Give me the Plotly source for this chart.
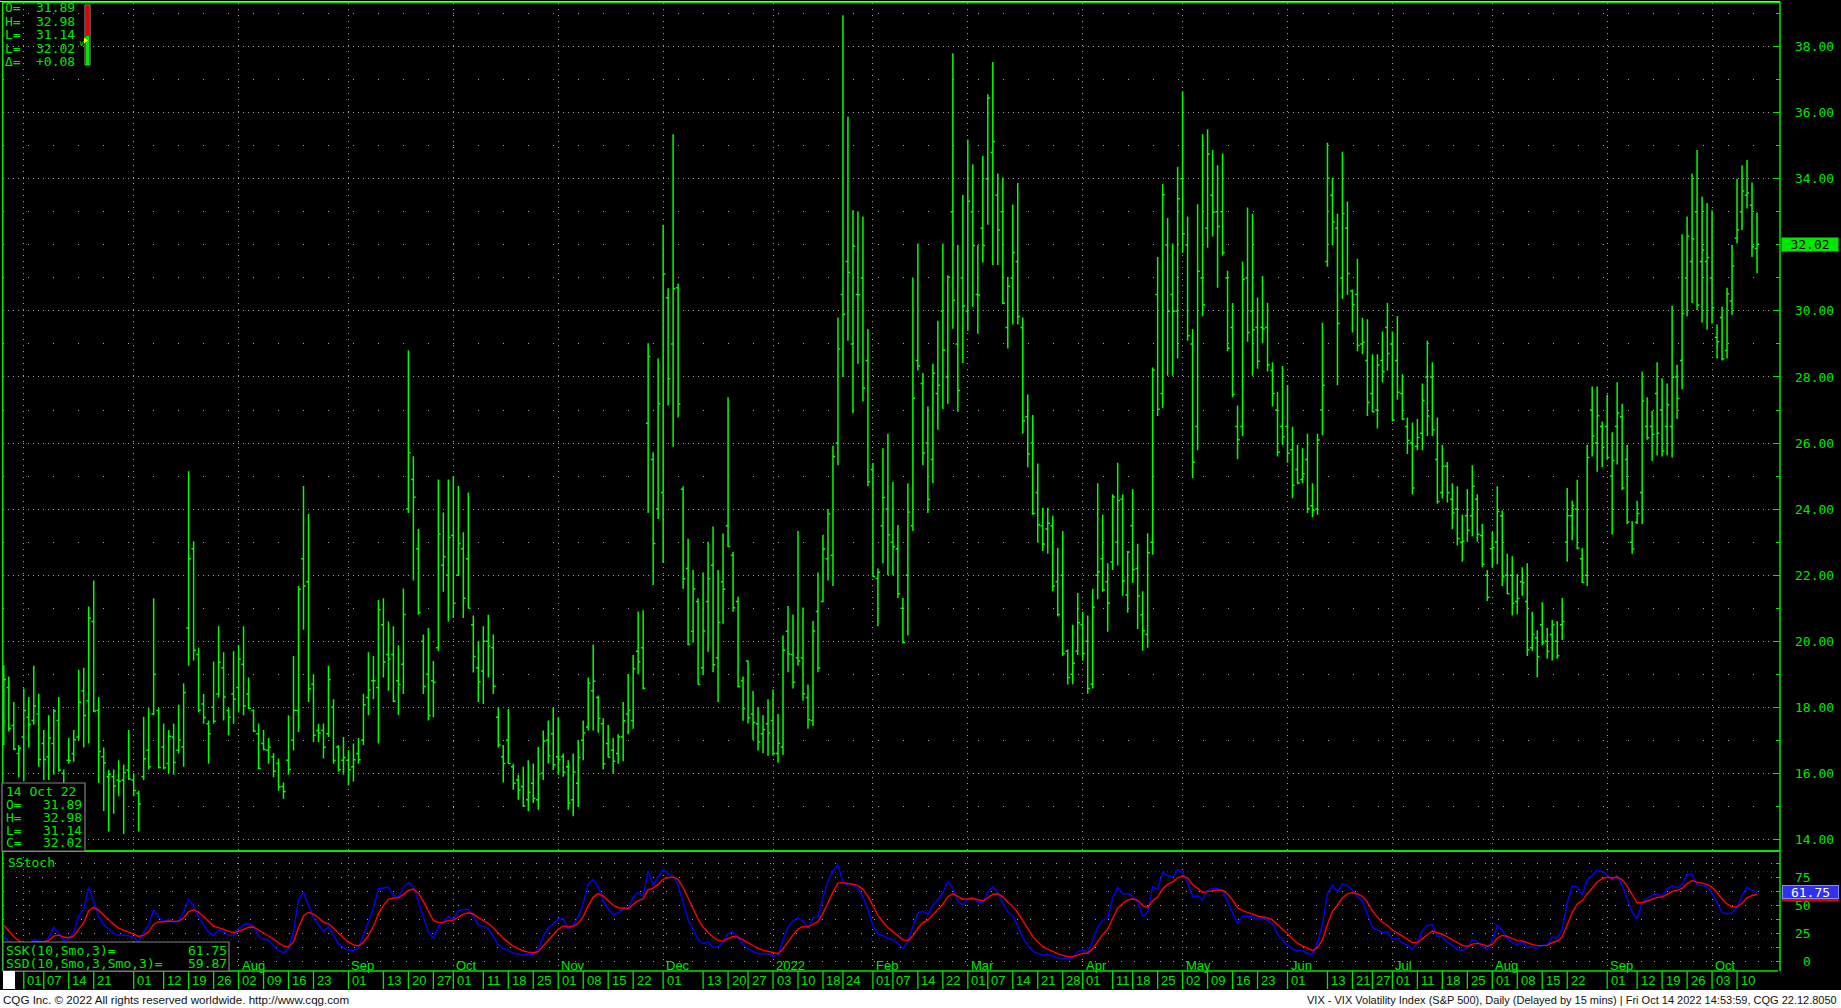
import numpy as np
import pandas as pd
import plotly.graph_objects as go

# ---------------- data ----------------
FIRST_DAY, LAST_DAY = "2021-05-25", "2022-10-14"
HOLIDAYS = ["2021-05-31", "2021-07-05", "2021-09-06", "2021-11-25", "2021-12-24",
            "2022-01-17", "2022-02-21", "2022-04-15", "2022-05-30", "2022-06-20",
            "2022-07-04", "2022-09-05"]

# sessions just before the visible window (May 10 - May 24, 2021): only used to
# warm up the stochastic so its first visible values are meaningful
PRIOR_HIGH = [20.00, 23.70, 28.40, 27.60, 22.90, 20.90, 21.50, 25.96, 22.50, 21.30, 20.60]
PRIOR_LOW = [16.80, 19.50, 20.30, 22.00, 18.50, 18.80, 18.90, 21.20, 20.30, 19.30, 18.20]
PRIOR_CLOSE = [19.66, 21.84, 27.59, 23.13, 18.81, 19.72, 21.34, 22.18, 20.67, 20.15, 18.40]

OPEN = [
    17.70, 18.60, 17.45, 16.60,
    17.10, 17.70, 17.60, 17.80, 16.90, 16.50, 16.90, 17.60, 16.00, 16.40, 16.60, 17.10, 18.50, 18.20, 20.60, 17.90, 16.50, 15.90, 15.90, 15.80, 15.80, 16.10,
    15.80, 15.40, 15.90, 16.70, 17.80, 17.90, 16.80, 16.30, 17.10, 16.70, 16.80, 20.40, 22.80, 19.60, 18.10, 17.50, 18.00, 18.40, 19.20, 17.90, 18.40,
    18.60, 19.30, 18.40, 17.90, 17.20, 16.90, 16.70, 16.50, 16.30, 15.60, 16.40, 17.00, 17.90, 22.50, 21.80, 18.70, 17.30, 17.30, 17.20, 18.00, 16.80, 16.40,
    16.40, 16.20, 16.60, 17.00, 18.30, 18.80, 18.60, 20.50, 19.60, 19.60, 18.80, 19.30, 24.00, 24.90, 22.80, 20.00, 19.00, 18.80, 19.80, 22.30, 22.00,
    23.20, 22.00, 22.80, 22.50, 20.50, 19.20, 19.10, 20.00, 19.80, 17.70, 16.50, 17.00, 16.20, 15.80, 15.60, 15.20, 15.70, 15.20, 16.00, 17.00, 17.20,
    16.50, 16.50, 16.20, 15.20, 15.70, 17.00, 17.40, 18.50, 18.30, 17.50, 16.90, 16.70, 16.60, 17.10, 17.80, 17.60, 19.70, 19.80, 26.60, 25.50, 24.00,
    24.50, 30.40, 29.00, 30.70, 24.60, 22.20, 20.30, 21.20, 19.20, 21.20, 22.30, 19.50, 21.80, 23.50, 22.60, 21.20, 18.80, 19.40, 17.80, 17.50, 17.20, 17.50,
    17.60, 16.60, 16.80, 20.30, 19.60, 19.50, 19.50, 18.30, 17.60, 20.90, 21.20, 22.50, 22.60, 26.00, 30.50, 31.50, 29.00, 30.50, 31.00, 28.50,
    25.20, 21.90, 23.50, 24.00, 23.00, 22.80, 21.00, 22.00, 23.50, 28.50, 27.80, 26.00, 25.50, 27.50, 30.00, 28.00, 33.00, 29.00, 31.00,
    30.00, 33.00, 30.50, 32.50, 34.00, 34.80, 33.50, 33.00, 29.50, 31.00, 31.50, 29.50, 26.80, 26.00, 24.50, 23.50, 23.40, 23.50, 21.80, 22.00, 19.70, 19.00, 19.70,
    20.50, 20.00, 18.70, 22.00, 22.50, 21.80, 22.40, 23.00, 24.30, 21.40, 23.50, 22.20, 20.80, 20.20, 23.00, 30.50, 27.50, 32.00, 30.50, 30.00,
    34.00, 32.00, 29.00, 26.50, 31.00, 32.50, 33.50, 33.00, 33.00, 31.00, 29.50, 26.50, 26.50, 31.00, 30.00, 29.50, 29.50, 29.50, 28.20, 27.00, 26.50,
    26.50, 25.80, 25.20, 24.90, 25.50, 24.10, 24.00, 27.00, 31.50, 33.50, 32.50, 31.00, 32.50, 30.60, 30.50, 29.00, 28.50, 27.50, 27.00, 28.50, 29.50,
    29.00, 28.50, 27.50, 26.50, 26.00, 25.90, 26.30, 28.00, 28.00, 25.50, 24.50, 25.30, 24.30, 24.00, 23.00, 23.80, 23.80, 24.30, 23.20, 22.00,
    22.80, 23.00, 23.80, 22.00, 22.00, 21.20, 21.80, 21.20, 19.80, 20.10, 20.50, 20.00, 20.20, 20.00, 20.50, 23.00, 23.80, 24.00, 22.50, 22.00, 27.00, 26.00, 26.50,
    26.50, 25.00, 26.50, 26.80, 25.50, 23.00, 23.60, 24.50, 26.50, 26.50, 27.50, 27.00, 26.50, 26.50, 28.00, 28.50, 31.00, 31.50, 33.00, 31.50, 31.50,
    31.00, 29.20, 29.80, 28.80, 30.30, 32.20, 33.00, 33.50, 33.20, 31.89,
]
HIGH = [
    19.27, 18.93, 18.16, 16.86,
    18.57, 18.31, 19.26, 18.41, 17.31, 17.76, 17.95, 18.31, 16.12, 17.07, 17.31, 19.14, 19.20, 21.05, 21.84, 18.31, 16.78, 16.10, 16.12, 16.40, 16.27, 17.31,
    16.00, 15.47, 17.71, 17.97, 21.30, 17.97, 17.51, 17.31, 17.51, 18.08, 18.73, 25.15, 23.03, 19.80, 18.40, 17.60, 19.39, 20.45, 19.67, 17.97, 19.70,
    19.88, 20.45, 18.90, 17.93, 17.51, 17.31, 17.07, 16.61, 16.45, 15.72, 17.76, 19.55, 21.67, 24.70, 23.85, 19.00, 17.50, 17.51, 19.26, 18.24, 16.86, 17.10,
    16.70, 16.90, 17.07, 18.41, 19.67, 19.55, 21.25, 21.30, 20.60, 20.45, 19.88, 21.60, 28.81, 25.60, 23.40, 20.20, 20.40, 19.40, 24.90, 23.90, 24.90,
    25.00, 24.70, 23.30, 24.50, 20.78, 20.00, 20.45, 20.80, 20.20, 18.00, 16.86, 17.95, 16.29, 15.96, 16.20, 16.40, 16.30, 16.80, 17.30, 17.60, 18.00,
    17.70, 16.60, 16.40, 16.60, 17.00, 17.60, 18.90, 19.90, 18.36, 17.67, 17.46, 17.07, 17.18, 18.16, 19.01, 19.58, 20.90, 20.94, 29.02, 25.72, 28.56,
    32.61, 30.69, 35.35, 30.82, 24.69, 23.10, 22.16, 21.30, 22.08, 23.01, 23.47, 22.16, 23.26, 27.39, 22.70, 21.35, 18.93, 19.42, 18.49, 18.00, 17.76, 18.24,
    18.54, 17.80, 20.17, 21.07, 20.81, 23.34, 21.02, 18.69, 20.61, 22.08, 23.22, 24.00, 25.92, 29.80, 38.95, 35.88, 33.05, 33.02, 32.86, 29.45,
    25.40, 22.20, 25.84, 26.28, 24.82, 23.52, 21.31, 24.78, 31.01, 32.04, 28.12, 27.11, 28.40, 29.70, 32.04, 31.08, 37.80, 32.00, 33.51,
    35.19, 34.44, 32.00, 34.69, 36.56, 37.54, 34.16, 34.03, 31.03, 33.22, 33.87, 29.80, 27.47, 26.85, 25.38, 24.04, 24.04, 23.80, 22.82, 23.34, 19.75, 20.50, 21.46,
    20.89, 20.78, 21.59, 24.78, 23.83, 22.36, 24.45, 25.40, 24.45, 22.73, 24.61, 22.95, 21.51, 23.27, 28.29, 31.63, 33.84, 32.81, 32.04, 34.36,
    36.65, 32.86, 29.45, 33.23, 35.35, 35.50, 34.87, 34.41, 34.77, 31.22, 30.24, 27.14, 31.50, 33.13, 32.94, 30.41, 31.06, 30.24, 28.45, 27.55, 28.33,
    27.76, 26.49, 25.95, 25.84, 26.28, 24.78, 26.28, 29.64, 35.09, 34.03, 32.94, 34.82, 33.31, 30.65, 31.58, 29.79, 29.75, 28.69, 28.69, 29.38, 30.24,
    29.38, 29.84, 28.08, 26.77, 26.62, 26.73, 27.80, 29.10, 28.45, 26.77, 25.95, 25.43, 24.78, 24.69, 23.83, 24.61, 25.33, 24.45, 23.55, 22.16,
    23.31, 24.69, 23.96, 22.65, 22.57, 22.03, 22.24, 22.36, 20.89, 20.33, 21.18, 20.40, 20.64, 20.61, 21.31, 24.64, 24.25, 24.89, 22.82, 25.95, 27.71, 27.71, 26.65,
    27.47, 26.33, 27.84, 27.19, 25.95, 23.63, 24.25, 28.17, 27.39, 26.98, 28.45, 27.96, 27.80, 30.16, 28.37, 32.32, 32.86, 34.16, 34.87, 33.46, 33.26,
    33.05, 29.59, 30.13, 30.70, 32.00, 34.00, 34.41, 34.57, 33.89, 32.98,
]
LOW = [
    16.86, 17.27, 16.70, 15.88,
    15.76, 16.78, 17.47, 16.20, 15.80, 15.80, 15.96, 16.05, 15.55, 16.29, 16.35, 17.00, 16.78, 16.90, 17.85, 15.71, 14.86, 14.24, 14.78, 15.31, 14.16, 15.80,
    15.31, 14.24, 15.80, 16.12, 17.76, 16.15, 16.12, 16.00, 15.96, 16.60, 16.20, 19.26, 19.42, 17.85, 17.50, 16.29, 17.50, 18.30, 17.60, 17.15, 17.50,
    17.85, 17.76, 17.95, 17.25, 16.12, 16.70, 16.29, 15.88, 15.47, 15.23, 15.96, 16.70, 17.25, 20.35, 18.16, 16.95, 16.95, 16.45, 17.10, 16.29, 16.05, 15.96,
    15.63, 15.75, 16.29, 16.86, 17.76, 18.24, 16.90, 18.90, 18.50, 18.15, 17.76, 18.40, 23.88, 21.84, 20.80, 18.40, 17.60, 17.70, 19.70, 21.50, 20.60,
    20.70, 22.00, 20.70, 21.00, 19.05, 18.16, 18.10, 18.90, 18.40, 16.78, 15.72, 16.29, 15.50, 15.20, 14.98, 14.86, 15.10, 14.90, 15.80, 16.30, 16.10,
    15.96, 15.90, 14.90, 14.70, 14.98, 16.40, 17.30, 17.30, 17.23, 16.12, 16.48, 15.99, 16.29, 16.37, 17.18, 17.35, 19.00, 18.54, 23.88, 21.70, 23.70,
    22.37, 27.14, 25.89, 26.77, 21.59, 19.88, 19.96, 18.69, 18.98, 19.68, 19.06, 18.16, 20.53, 22.85, 20.89, 18.60, 17.59, 17.51, 17.02, 16.69, 16.61, 16.53,
    16.53, 16.32, 16.56, 19.06, 18.57, 19.26, 18.20, 17.35, 17.43, 19.06, 21.18, 21.84, 21.67, 25.33, 28.00, 29.10, 26.90, 28.40, 27.26, 24.69,
    21.95, 20.45, 22.36, 22.00, 22.00, 21.31, 19.93, 20.17, 23.34, 28.20, 25.33, 23.88, 24.78, 26.40, 27.03, 27.19, 29.46, 26.95, 28.42,
    29.40, 30.13, 29.31, 31.47, 32.61, 31.39, 31.39, 30.20, 28.86, 29.59, 29.59, 26.28, 25.27, 23.83, 22.98, 22.73, 22.65, 21.51, 20.75, 19.55, 18.69, 18.70, 19.58,
    19.42, 18.41, 18.57, 21.27, 21.50, 20.29, 22.16, 22.29, 21.38, 20.86, 21.76, 20.37, 19.71, 19.80, 22.62, 26.82, 27.06, 28.04, 28.04, 28.56,
    31.76, 29.10, 24.94, 25.78, 29.84, 31.91, 32.25, 30.70, 31.68, 28.78, 27.39, 25.51, 26.21, 29.07, 28.04, 28.25, 29.02, 28.17, 27.11, 25.59, 25.95,
    25.40, 24.33, 24.75, 24.78, 23.88, 23.75, 23.83, 26.24, 31.34, 31.99, 27.75, 30.36, 30.49, 29.35, 28.78, 28.69, 26.82, 26.93, 26.44, 27.84, 28.20,
    26.65, 27.31, 26.70, 25.67, 24.45, 25.78, 25.78, 26.21, 26.21, 24.16, 24.32, 24.20, 23.39, 22.90, 22.41, 23.01, 23.18, 23.01, 22.24, 21.22,
    22.24, 22.33, 21.67, 21.43, 20.78, 20.82, 21.38, 19.55, 19.71, 18.91, 19.88, 19.47, 19.42, 19.47, 20.04, 22.41, 23.06, 22.78, 21.76, 21.67, 25.59, 25.13, 25.27,
    25.51, 23.23, 25.35, 24.58, 23.55, 22.65, 23.55, 23.55, 26.10, 25.46, 25.62, 25.59, 25.62, 25.56, 26.73, 27.63, 29.84, 30.24, 30.03, 29.64, 29.43,
    29.62, 28.56, 28.50, 28.56, 29.88, 32.04, 32.45, 33.10, 31.63, 31.14,
]
CLOSE = [
    18.84, 17.36, 16.74, 16.76,
    17.90, 17.48, 18.04, 16.42, 16.42, 17.07, 17.89, 16.10, 15.65, 16.39, 17.02, 18.15, 17.75, 20.70, 17.89, 16.66, 16.32, 15.97, 15.62, 15.76, 16.02, 15.83,
    15.48, 15.07, 16.44, 16.20, 19.00, 16.18, 16.17, 17.12, 16.33, 17.01, 18.45, 22.50, 19.73, 17.91, 17.69, 17.20, 17.58, 19.36, 18.31, 17.70, 18.24,
    19.46, 18.04, 17.97, 17.28, 16.15, 16.72, 16.79, 16.06, 15.59, 15.45, 16.12, 17.91, 21.57, 21.67, 18.56, 17.15, 17.22, 16.79, 18.84, 16.39, 16.11, 16.48,
    16.11, 16.41, 16.41, 18.08, 18.52, 18.80, 20.95, 19.37, 19.46, 18.18, 18.69, 20.81, 25.71, 24.36, 20.87, 18.63, 17.75, 18.76, 23.25, 22.56, 23.14,
    21.15, 22.96, 21.30, 21.00, 19.54, 18.77, 20.00, 19.85, 18.64, 16.86, 16.30, 16.30, 15.70, 15.49, 15.01, 15.43, 15.24, 15.98, 16.98, 16.53, 16.26,
    16.41, 16.03, 15.10, 16.04, 16.48, 17.22, 18.73, 18.79, 17.66, 16.29, 16.49, 16.37, 17.11, 17.59, 17.91, 19.17, 19.38, 18.58, 28.62, 22.96, 27.19,
    31.12, 27.95, 30.67, 27.18, 21.89, 19.90, 21.58, 18.69, 20.31, 21.89, 19.29, 20.57, 21.57, 22.87, 21.01, 18.63, 17.96, 17.68, 17.54, 16.95, 17.33, 17.22,
    16.60, 16.91, 19.73, 19.61, 18.76, 19.40, 18.41, 17.62, 20.31, 19.19, 22.79, 23.85, 25.59, 28.85, 29.90, 31.16, 31.96, 30.49, 27.66, 24.83,
    21.96, 22.09, 24.35, 23.22, 22.86, 21.44, 19.96, 23.91, 27.36, 28.33, 25.70, 24.29, 28.11, 27.75, 28.81, 31.02, 30.32, 27.59, 30.15,
    33.32, 31.98, 30.48, 31.98, 36.45, 35.13, 32.45, 30.23, 30.75, 31.77, 29.83, 26.67, 25.67, 23.87, 23.53, 22.94, 23.57, 21.67, 20.81, 19.63, 18.90, 19.33, 20.56,
    19.63, 18.57, 21.03, 22.10, 21.55, 21.16, 24.37, 24.26, 21.82, 22.70, 22.17, 21.37, 20.32, 22.68, 28.21, 27.02, 33.52, 29.99, 29.99, 33.40,
    32.34, 29.25, 25.42, 31.20, 30.19, 34.75, 32.99, 32.56, 31.77, 28.87, 27.47, 26.10, 30.96, 29.35, 29.43, 28.48, 29.45, 28.37, 27.50, 25.72, 26.19,
    25.69, 24.72, 24.79, 25.07, 24.02, 23.96, 26.09, 27.75, 34.02, 32.69, 29.62, 32.95, 31.13, 30.19, 28.95, 29.05, 27.23, 26.95, 28.36, 28.16, 28.71,
    26.70, 27.54, 26.73, 26.08, 24.64, 26.17, 27.29, 26.82, 26.40, 24.23, 25.30, 24.50, 23.88, 23.11, 23.03, 23.36, 24.69, 23.24, 22.33, 21.33,
    22.84, 23.93, 21.95, 21.44, 21.15, 21.29, 21.77, 19.74, 20.20, 19.53, 19.95, 19.69, 20.50, 19.56, 20.60, 23.80, 24.11, 22.82, 21.78, 25.56, 26.21, 26.83, 25.87,
    25.56, 25.47, 26.91, 24.64, 23.61, 22.79, 23.87, 27.27, 26.16, 26.27, 26.30, 25.76, 27.16, 27.99, 27.35, 29.92, 32.26, 32.18, 30.18, 31.84, 31.62,
    30.10, 29.07, 28.55, 30.52, 31.36, 32.45, 33.63, 33.57, 31.94, 32.02,
]

MONTH_STARTS = ["2021-06-01", "2021-07-01", "2021-08-02", "2021-09-01", "2021-10-01", "2021-11-01",
                "2021-12-01", "2022-01-03", "2022-02-01", "2022-03-01", "2022-04-01", "2022-05-02",
                "2022-06-01", "2022-07-01", "2022-08-01", "2022-09-01", "2022-10-03"]
MONTH_LABEL_DATES = MONTH_STARTS[2:]
MONTH_LABELS = ["Aug", "Sep", "Oct", "Nov", "Dec", "2022", "Feb", "Mar", "Apr", "May",
                "Jun", "Jul", "Aug", "Sep", "Oct"]
DAY_TICKS = ["2021-06-01", "2021-06-07", "2021-06-14", "2021-06-21", "2021-07-01", "2021-07-12",
             "2021-07-19", "2021-07-26", "2021-08-02", "2021-08-09", "2021-08-16", "2021-08-23",
             "2021-09-01", "2021-09-13", "2021-09-20", "2021-09-27", "2021-10-01", "2021-10-11",
             "2021-10-18", "2021-10-25", "2021-11-01", "2021-11-08", "2021-11-15", "2021-11-22",
             "2021-12-01", "2021-12-13", "2021-12-20", "2021-12-27", "2022-01-03", "2022-01-10",
             "2022-01-18", "2022-01-24", "2022-02-01", "2022-02-07", "2022-02-14", "2022-02-22",
             "2022-03-01", "2022-03-07", "2022-03-14", "2022-03-21", "2022-03-28", "2022-04-01",
             "2022-04-11", "2022-04-18", "2022-04-25", "2022-05-02", "2022-05-09", "2022-05-16",
             "2022-05-23", "2022-06-01", "2022-06-13", "2022-06-21", "2022-06-27", "2022-07-01",
             "2022-07-11", "2022-07-18", "2022-07-25", "2022-08-01", "2022-08-08", "2022-08-15",
             "2022-08-22", "2022-09-01", "2022-09-12", "2022-09-19", "2022-09-26", "2022-10-03",
             "2022-10-10"]
PRICE_TICKS = [14, 16, 18, 20, 22, 24, 26, 28, 30, 34, 36, 38]
STOCH_LABELS = [75, 50, 25, 0]
STOCH_GRID = [0, 12.5, 25, 37.5, 50, 62.5, 75, 87.5]
STOCH_OB, STOCH_OS = 80, 20
LAST = dict(date="14 Oct 22", O="31.89", H="32.98", L="31.14", C="32.02", D="+0.08")
SSK_LAST, SSD_LAST = 61.75, 59.87

# ---------------- trading calendar -> bar positions ----------------
dates = pd.bdate_range(FIRST_DAY, LAST_DAY, freq="C", holidays=HOLIDAYS)
pos = {d: k for k, d in enumerate(dates)}
origin = pos[pd.Timestamp("2021-06-01")]
xs = np.arange(len(dates)) - origin


def xi(s):
    return pos[pd.Timestamp(s)] - origin


# ---------------- slow stochastic (CQG SSK/SSD, smoothed averages) ----------------
n_prior = len(PRIOR_CLOSE)
Hh = np.array(PRIOR_HIGH + HIGH)
Ll = np.array(PRIOR_LOW + LOW)
Cc = np.array(PRIOR_CLOSE + CLOSE)
hh = pd.Series(Hh).rolling(10, min_periods=1).max().to_numpy()
ll = pd.Series(Ll).rolling(10, min_periods=1).min().to_numpy()


def smooth(v, n):
    out = np.empty(len(v))
    out[0] = v[0]
    for t in range(1, len(v)):
        out[t] = out[t - 1] + (v[t] - out[t - 1]) / n
    return out


ssk_all = 100 * smooth(Cc - ll, 3) / smooth(hh - ll, 3)
ssd_all = smooth(ssk_all, 3)
ssk = ssk_all[n_prior:]
ssd = ssd_all[n_prior:]

# ---------------- styling / layout geometry ----------------
FIG_W, FIG_H = 1841, 1008
GREEN = "#00e800"
BAR_GREEN = "#00ff00"
GRID = "#a0a0a0"
MONO = "DejaVu Sans Mono"
SANS = "Liberation Sans"


def fx(p):
    return p / FIG_W


def fy(p):
    return 1 - p / FIG_H


X_DOM = [fx(3), fx(1780)]
MAIN_DOM = [fy(851), fy(3)]
STOCH_DOM = [fy(971), fy(851)]
X_RANGE = [-4.16, 351.6]
P_RANGE = [13.649, 39.323]
S_RANGE = [-8.66, 98.5]

fig = go.Figure()
fig.add_trace(go.Ohlc(
    x=xs, open=OPEN, high=HIGH, low=LOW, close=CLOSE,
    increasing=dict(line=dict(color=BAR_GREEN, width=1.5)),
    decreasing=dict(line=dict(color=BAR_GREEN, width=1.5)),
    tickwidth=0.45, xaxis="x", yaxis="y", hoverinfo="skip"))
fig.add_trace(go.Scatter(x=xs, y=ssk, mode="lines", line=dict(color="#0000ff", width=1.4),
                         xaxis="x2", yaxis="y2", hoverinfo="skip"))
fig.add_trace(go.Scatter(x=xs, y=ssd, mode="lines", line=dict(color="#ff0000", width=1.4),
                         xaxis="x2", yaxis="y2", hoverinfo="skip"))

month_x = [xi(d) for d in MONTH_STARTS]
xaxis_common = dict(domain=X_DOM, range=X_RANGE, tickmode="array", tickvals=month_x,
                    showticklabels=False, ticks="", showgrid=True, gridcolor=GRID,
                    gridwidth=1, griddash="1px,5px", zeroline=False, showline=False,
                    fixedrange=True)

fig.update_layout(
    width=FIG_W, height=FIG_H, margin=dict(l=0, r=0, t=0, b=0, pad=0),
    paper_bgcolor="black", plot_bgcolor="black", showlegend=False,
    xaxis=dict(**xaxis_common, anchor="y", rangeslider=dict(visible=False)),
    xaxis2=dict(**xaxis_common, anchor="y2"),
    yaxis=dict(domain=MAIN_DOM, range=P_RANGE, side="right", anchor="x",
               tickmode="array", tickvals=PRICE_TICKS, tickformat=".2f",
               ticks="inside", ticklen=7, tickcolor=GREEN, tickwidth=1,
               tickfont=dict(family=MONO, size=13, color=GREEN), ticklabelstandoff=14,
               showgrid=True, gridcolor=GRID, griddash="1px,4px", gridwidth=1,
               zeroline=False, showline=False, fixedrange=True,
               minor=dict(tickmode="linear", tick0=0, dtick=1, ticks="inside", ticklen=4,
                          tickcolor=GREEN, showgrid=True, gridcolor=GRID,
                          griddash="1px,24px", gridwidth=1)),
    yaxis2=dict(domain=STOCH_DOM, range=S_RANGE, side="right", anchor="x2",
                tickmode="array", tickvals=STOCH_GRID, showticklabels=False,
                ticks="inside", ticklen=4, tickcolor=GREEN,
                showgrid=True, gridcolor=GRID, griddash="1px,12px", gridwidth=1,
                zeroline=False, showline=False, fixedrange=True),
)

shapes = []


def pline(x0, y0, x1, y1, color=GREEN, width=1.5, dash=None):
    d = dict(type="line", xref="paper", yref="paper", x0=fx(x0), x1=fx(x1), y0=fy(y0),
             y1=fy(y1), line=dict(color=color, width=width), layer="above")
    if dash:
        d["line"]["dash"] = dash
    shapes.append(d)


def prect(x0, y0, x1, y1, fill, line_color=None, width=1):
    shapes.append(dict(type="rect", xref="paper", yref="paper", x0=fx(x0), x1=fx(x1),
                       y0=fy(y1), y1=fy(y0), fillcolor=fill,
                       line=dict(color=line_color or fill, width=width if line_color else 0),
                       layer="above"))


# stochastic reference lines
for lvl, col in [(STOCH_OB, "#d00000"), (STOCH_OS, "#1818d0")]:
    shapes.append(dict(type="line", xref="paper", yref="y2", x0=X_DOM[0], x1=X_DOM[1],
                       y0=lvl, y1=lvl, line=dict(color=col, width=1, dash="1px,3px"),
                       layer="below"))

# panel borders
pline(0, 1.5, 1780, 1.5, color="#d0d0d0", width=1)
pline(3, 2.5, 1780, 2.5, width=1.5)
pline(2.7, 2, 2.7, 971, width=1.5)
pline(1780, 2, 1780, 971, width=1.5)
pline(3, 851, 1780, 851, width=2.2)
pline(3, 971, 1778, 971, width=1.5)

# boxes
prect(2, 783, 85, 851, "black", "#808080", 1.2)        # last bar info box
prect(3, 942, 229, 971, "black", "#808080", 1.2)       # SSK / SSD box
prect(3, 971, 15, 989, "white")                        # little white cell in date row
prect(0, 990, FIG_W, FIG_H, "white")                   # footer strip

# top-left price indicator bar
prect(85, 5, 90, 65, "black", "#a0a0a0", 1)
prect(86, 6, 89, 36, "#e00000")
prect(86, 36, 89, 65, GREEN)
shapes.append(dict(type="path", xref="paper", yref="paper",
                   path=f"M {fx(84)},{fy(37.5)} L {fx(88)},{fy(40.5)} L {fx(84)},{fy(43.5)} Z",
                   fillcolor="#ffff00", line=dict(width=0), layer="above"))

# date row separators
for d in DAY_TICKS:
    shapes.append(dict(type="line", xref="x2", yref="paper", x0=xi(d), x1=xi(d),
                       y0=fy(971), y1=fy(989), line=dict(color=GREEN, width=1.3),
                       layer="above"))

ann = []


def txt(x, y, s, size=13, color=GREEN, family=MONO, anchor="left", **kw):
    d = dict(x=fx(x), y=fy(y), xref="paper", yref="paper", text=s, showarrow=False,
             xanchor=anchor, yanchor="middle", font=dict(family=family, size=size, color=color))
    d.update(kw)
    ann.append(d)


# top-left quote block
for (lab, val), yy in zip([("O=", LAST["O"]), ("H=", LAST["H"]), ("L=", LAST["L"]),
                           ("L=", LAST["C"]), ("Δ=", LAST["D"])], [8, 21.5, 35, 48, 61]):
    txt(3, yy, lab)
    txt(77, yy, val, anchor="right")
txt(77, 43, "v", size=9)

# bottom-left last bar box
txt(4, 791, LAST["date"])
for (lab, val), yy in zip([("O=", LAST["O"]), ("H=", LAST["H"]), ("L=", LAST["L"]),
                           ("C=", LAST["C"])], [804, 817, 830, 842.5]):
    txt(4, yy, lab)
    txt(84, yy, val, anchor="right")

# stochastic labels
txt(6, 862, "SStoch")
txt(4, 950.5, "SSK(10,Smo,3)=")
txt(229, 950.5, f"{SSK_LAST:.2f}", anchor="right")
txt(4, 963.5, "SSD(10,Smo,3,Smo,3)=")
txt(229, 963.5, f"{SSD_LAST:.2f}", anchor="right")

for v in STOCH_LABELS:
    ann.append(dict(x=fx(1813), y=v, xref="paper", yref="y2", text=str(v), showarrow=False,
                    xanchor="right", yanchor="middle",
                    font=dict(family=MONO, size=13, color=GREEN)))

# current value markers
ann.append(dict(x=fx(1810), y=float(LAST["C"]), xref="paper", yref="y", text=LAST["C"],
                showarrow=False, xanchor="center", yanchor="middle", bgcolor=GREEN,
                width=56, height=13, borderpad=0,
                font=dict(family=MONO, size=13, color="black")))
ann.append(dict(x=fx(1810), y=SSD_LAST, xref="paper", yref="y2", text=f"{SSD_LAST:.2f}",
                showarrow=False, xanchor="center", yanchor="middle", bgcolor="#e00000",
                width=56, height=13, borderpad=0,
                font=dict(family=MONO, size=13, color="white")))
ann.append(dict(x=fx(1810), y=SSK_LAST, xref="paper", yref="y2", text=f"{SSK_LAST:.2f}",
                showarrow=False, xanchor="center", yanchor="middle", bgcolor="#3030f0",
                bordercolor="#8888ff", borderwidth=1, width=55, height=12, borderpad=0,
                font=dict(family=MONO, size=13, color="white")))

# month labels (inside stochastic panel, bottom)
for d, lab in zip(MONTH_LABEL_DATES, MONTH_LABELS):
    ann.append(dict(x=xi(d), y=fy(965), xref="x2", yref="paper", text=lab, showarrow=False,
                    xanchor="left", yanchor="middle", xshift=1,
                    font=dict(family=SANS, size=13, color=GREEN)))

# day numbers in the date row
for d in DAY_TICKS:
    ann.append(dict(x=xi(d), y=fy(980), xref="x2", yref="paper",
                    text=pd.Timestamp(d).strftime("%d"), showarrow=False,
                    xanchor="left", yanchor="middle", xshift=1.5,
                    font=dict(family=SANS, size=13, color=GREEN)))

# footer
txt(1, 999.5, "CQG Inc. © 2022 All rights reserved worldwide. http://www.cqg.com",
    size=11.6, color="#111111", family=SANS)
txt(1839, 999.5, "VIX - VIX Volatility Index (S&amp;P 500), Daily (Delayed by 15 mins) | "
    "Fri Oct 14 2022 14:53:59, CQG 22.12.8050", size=11, color="#111111", family=SANS,
    anchor="right")

fig.update_layout(shapes=shapes, annotations=ann)

fig.write_html("out.html", config=dict(displayModeBar=False, staticPlot=True),
               post_script="document.body.style.margin='0';document.body.style.overflow='hidden';")
